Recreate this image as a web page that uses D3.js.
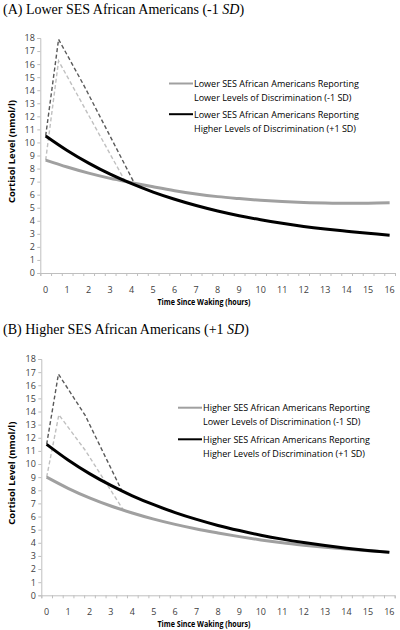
<!DOCTYPE html>
<html><head><meta charset="utf-8">
<script src="https://cdn.jsdelivr.net/npm/d3@7"></script>
<style>
body{margin:0;background:#fff;}
svg{display:block;}
</style></head>
<body>
<script>
// ---------- data ----------
const hours = [0,1,2,3,4,5,6,7,8,9,10,11,12,13,14,15,16];
const yTicks = d3.range(0,19);
const xLabels = d3.range(0,17);

// Panel A (Lower SES)
const aLowDisc  = [8.65,8.12,7.65,7.25,6.92,6.6,6.3,6.05,5.85,5.7,5.57,5.47,5.4,5.36,5.34,5.35,5.38];
const aHighDisc = [10.5,9.39,8.42,7.57,6.84,6.2,5.65,5.17,4.75,4.39,4.08,3.81,3.57,3.37,3.2,3.04,2.9];
const aLowCarHours  = [0,0.6,3.7];
const aLowCarVals   = [8.65,16.25,7.02];
const aHighCarHours = [0,0.6,1.8,4.15];
const aHighCarVals  = [10.5,17.9,14.3,6.8];

// Panel B (Higher SES)
const bLowDisc  = [9.0,8.15,7.42,6.8,6.27,5.8,5.4,5.05,4.75,4.47,4.22,4.0,3.82,3.66,3.52,3.4,3.3];
const bHighDisc = [11.5,10.31,9.27,8.37,7.58,6.9,6.3,5.78,5.32,4.93,4.58,4.28,4.02,3.79,3.59,3.42,3.27];
const bLowCarHours  = [0,0.57,1.8,3.58];
const bLowCarVals   = [9.0,13.75,11.05,6.5];
const bHighCarHours = [0,0.55,1.8,3.5];
const bHighCarVals  = [11.5,16.85,13.7,8.0];

const panels = [
  {title:"(A) Lower SES African Americans (-1 ", titleEnd:")", top:0,
   y0:273, y18:38, xl:40.3, xr:395, legX:193, legY:[83.5,114.2],
   leg:[["Lower SES African Americans Reporting","Lower Levels of Discrimination (-1 SD)"],
        ["Lower SES African Americans Reporting","Higher Levels of Discrimination (+1 SD)"]],
   low:aLowDisc, high:aHighDisc,
   lowCar:[aLowCarHours,aLowCarVals], highCar:[aHighCarHours,aHighCarVals]},
  {title:"(B) Higher SES African Americans (+1 ", titleEnd:")", top:320,
   y0:595.3, y18:359, xl:41.3, xr:394.7, legX:202, legY:[407.7,439.3],
   leg:[["Higher SES African Americans Reporting","Lower Levels of Discrimination (-1 SD)"],
        ["Higher SES African Americans Reporting","Higher Levels of Discrimination (+1 SD)"]],
   low:bLowDisc, high:bHighDisc,
   lowCar:[bLowCarHours,bLowCarVals], highCar:[bHighCarHours,bHighCarVals]}
];

const svg = d3.select("body").append("svg").attr("width",400).attr("height",630);
const sans = "'Open Sans', sans-serif";
const axisCol = "#bfbfbf", textCol = "#404040";
const greyCol = "#a0a0a0";

panels.forEach(p=>{
  const g = svg.append("g");
  const x = d3.scaleLinear().domain([-0.25,16.25]).range([p.xl,p.xr]);
  const y = d3.scaleLinear().domain([0,18]).range([p.y0,p.y18]);

  // title
  const t = g.append("text").attr("x",3).attr("y",p.top+13.5)
    .attr("font-family","'Liberation Serif', 'Times New Roman', serif").attr("font-size",14).attr("fill","#000");
  t.append("tspan").text(p.title);
  t.append("tspan").attr("font-style","italic").text("SD");
  t.append("tspan").text(p.titleEnd);

  // y axis
  const ya = g.append("g").attr("transform",`translate(${p.xl},0)`)
    .call(d3.axisLeft(y).tickValues(yTicks).tickSize(3).tickPadding(2.5).tickFormat(d3.format("d")));
  ya.select(".domain").attr("stroke",axisCol);
  ya.selectAll(".tick line").attr("stroke",axisCol);
  ya.selectAll("text").attr("font-family",sans).attr("font-size",9).attr("fill",textCol);

  // x axis
  const xa = g.append("g").attr("transform",`translate(0,${p.y0})`)
    .call(d3.axisBottom(x).tickValues(d3.range(0,34).map(i=>-0.25+0.5*i)).tickSize(3).tickFormat(""));
  xa.select(".domain").attr("stroke",axisCol);
  xa.selectAll(".tick line").attr("stroke",axisCol);
  g.append("g").selectAll("text").data(xLabels).join("text")
    .attr("x",d=>x(d)).attr("y",p.y0+20).attr("text-anchor","middle")
    .attr("font-family",sans).attr("font-size",9).attr("fill",textCol).text(d=>d);

  // axis titles
  g.append("text").attr("x",204).attr("y",p.y0+31.5).attr("text-anchor","middle")
    .attr("font-family",sans).attr("font-size",8.6).attr("font-weight","bold").attr("fill","#000")
    .attr("textLength",93).attr("lengthAdjust","spacingAndGlyphs")
    .text("Time Since Waking (hours)");
  g.append("text").attr("transform",`translate(14.5,${(p.y0+p.y18)/2-4}) rotate(-90)`)
    .attr("text-anchor","middle").attr("font-family",sans).attr("font-size",9.5)
    .attr("textLength",103).attr("lengthAdjust","spacingAndGlyphs")
    .attr("font-weight","bold").attr("fill","#000").text("Cortisol Level (nmol/l)");

  const lineSmooth = d3.line().x((d,i)=>x(hours[i])).y(d=>y(d)).curve(d3.curveCatmullRom.alpha(0.5));
  const lineLin = d3.line().x(d=>x(d[0])).y(d=>y(d[1]));

  // dashed CAR lines
  g.append("path").datum(d3.zip(p.lowCar[0],p.lowCar[1])).attr("d",lineLin)
    .attr("fill","none").attr("stroke","#c0c0c0").attr("stroke-width",1.4).attr("stroke-dasharray","4,2.5");
  g.append("path").datum(d3.zip(p.highCar[0],p.highCar[1])).attr("d",lineLin)
    .attr("fill","none").attr("stroke","#595959").attr("stroke-width",1.4).attr("stroke-dasharray","4,2.5");

  // solid lines
  g.append("path").datum(p.low).attr("d",lineSmooth).attr("fill","none")
    .attr("stroke",greyCol).attr("stroke-width",3);
  g.append("path").datum(p.high).attr("d",lineSmooth).attr("fill","none")
    .attr("stroke","#000").attr("stroke-width",3);

  // legend
  const cols = [greyCol,"#000"];
  p.leg.forEach((lines,i)=>{
    g.append("line").attr("x1",p.legX-24).attr("x2",p.legX).attr("y1",p.legY[i]).attr("y2",p.legY[i])
      .attr("stroke",cols[i]).attr("stroke-width",2);
    lines.forEach((s,j)=>{
      g.append("text").attr("x",p.legX+1).attr("y",p.legY[i]+3.3+j*14)
        .attr("font-family",sans).attr("font-size",9).attr("fill","#000").text(s);
    });
  });
});
</script>
</body></html>
